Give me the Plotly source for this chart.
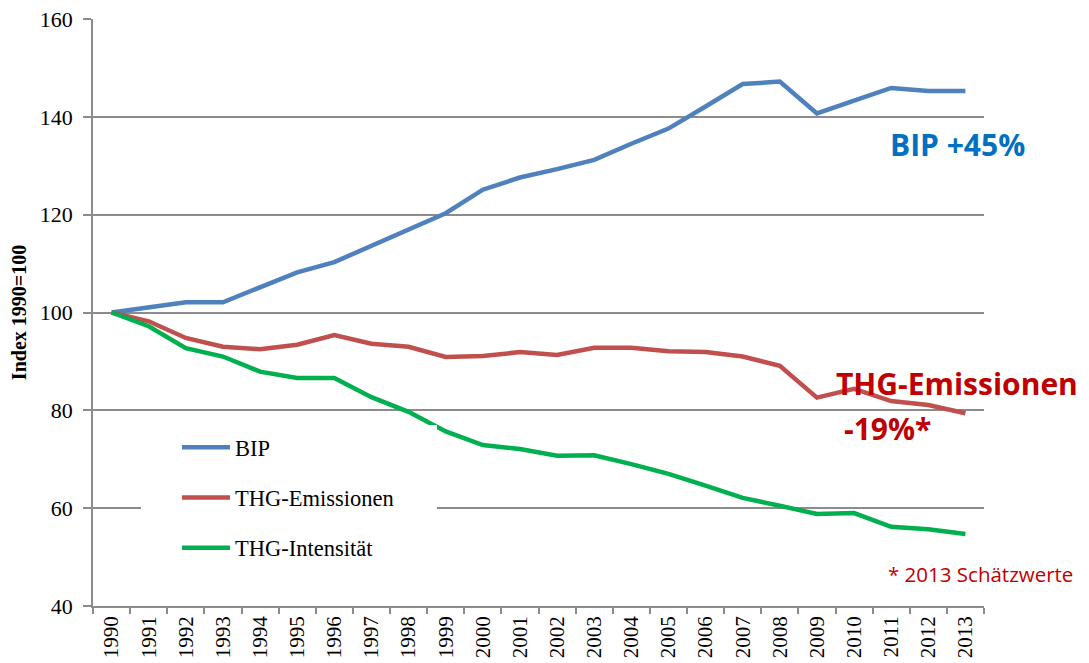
import plotly.graph_objects as go

years = [str(y) for y in range(1990, 2014)]
bip = [100, 101.0, 102.1, 102.1, 105.2, 108.2, 110.3, 113.6, 116.9, 120.3, 125.1, 127.6,
       129.3, 131.2, 134.5, 137.6, 142.1, 146.7, 147.2, 140.7, 143.3, 145.9, 145.3, 145.3]
thg_em = [100, 98.2, 94.8, 93.0, 92.5, 93.4, 95.4, 93.6, 93.0, 90.9, 91.1, 91.9,
          91.3, 92.8, 92.8, 92.1, 91.9, 91.0, 89.1, 82.6, 84.4, 81.9, 81.1, 79.4]
thg_int = [100, 97.2, 92.7, 91.0, 87.9, 86.6, 86.6, 82.7, 79.7, 75.7, 72.9, 72.1,
           70.7, 70.8, 69.0, 67.0, 64.6, 62.1, 60.5, 58.8, 59.0, 56.2, 55.7, 54.7]

series_names = ["BIP", "THG-Emissionen", "THG-Intensität"]
series_vals = [bip, thg_em, thg_int]
series_colors = ["#4F81BD", "#C0504D", "#00B050"]

fig = go.Figure()
for name, vals, col in zip(series_names, series_vals, series_colors):
    fig.add_trace(go.Scatter(
        x=years, y=vals, name=name, mode="lines", legendgroup=name,
        line=dict(color=col, width=4.5),
    ))

L, R, T, B = 93, 105, 19, 57
W, H = 1089, 663
pw, ph = W - L - R, H - T - B

def px(x):
    return (x - L) / pw

def py(y):
    return (H - B - y) / ph

grid_col = "#8C8C8C"
fig.update_layout(
    width=W, height=H,
    margin=dict(l=L, r=R, t=T, b=B, autoexpand=False),
    paper_bgcolor="white", plot_bgcolor="white",
    showlegend=True,
    legend=dict(
        x=px(177), y=py(426), xanchor="left", yanchor="top",
        bgcolor="rgba(0,0,0,0)",
        font=dict(family="Liberation Serif", size=22.5, color="black"),
        tracegroupgap=18, itemwidth=48,
    ),
    xaxis=dict(
        type="category", range=[-0.5, 23.5], automargin=False,
        tickson="boundaries", ticks="outside", ticklen=6, tickcolor=grid_col, tickwidth=1.5,
        tickangle=-90, showgrid=False,
        showline=True, linecolor=grid_col, linewidth=1.5,
        tickfont=dict(family="Liberation Serif", size=21, color="black"),
    ),
    yaxis=dict(
        range=[40, 160], dtick=20, tick0=40, automargin=False,
        ticks="outside", ticklen=8, tickcolor=grid_col, tickwidth=1.5,
        ticklabelstandoff=6,
        showgrid=True, gridcolor=grid_col, gridwidth=1.5,
        showline=True, linecolor=grid_col, linewidth=1.5, zeroline=False,
        tickfont=dict(family="Liberation Serif", size=22, color="black"),
        title=dict(text="<b>Index 1990=100</b>", standoff=8,
                   font=dict(family="Liberation Serif", size=20, color="black")),
    ),
    shapes=[dict(type="rect", xref="paper", yref="paper",
                 x0=px(141), x1=px(437), y0=py(590), y1=py(425),
                 fillcolor="white", line=dict(width=0), layer="above")],
    annotations=[
        dict(text="<b>BIP +45%</b>", xref="paper", yref="paper", x=px(957), y=py(145),
             xanchor="center", yanchor="middle", showarrow=False,
             font=dict(family="Open Sans", size=30, color="#0070C0")),
        dict(text="<b>THG-Emissionen</b>", xref="paper", yref="paper", x=px(834), y=py(383),
             xanchor="left", yanchor="middle", showarrow=False,
             font=dict(family="Open Sans", size=30, color="#C00000")),
        dict(text="<b>-19%*</b>", xref="paper", yref="paper", x=px(842), y=py(428),
             xanchor="left", yanchor="middle", showarrow=False,
             font=dict(family="Open Sans", size=30, color="#C00000")),
        dict(text="* 2013 Schätzwerte", xref="paper", yref="paper", x=px(886), y=py(574),
             xanchor="left", yanchor="middle", showarrow=False,
             font=dict(family="Open Sans", size=20.5, color="#C00000")),
    ],
)

fig.write_html("out.html", config={"displayModeBar": False},
               post_script="document.body.style.margin='0';document.body.style.overflow='hidden';")
